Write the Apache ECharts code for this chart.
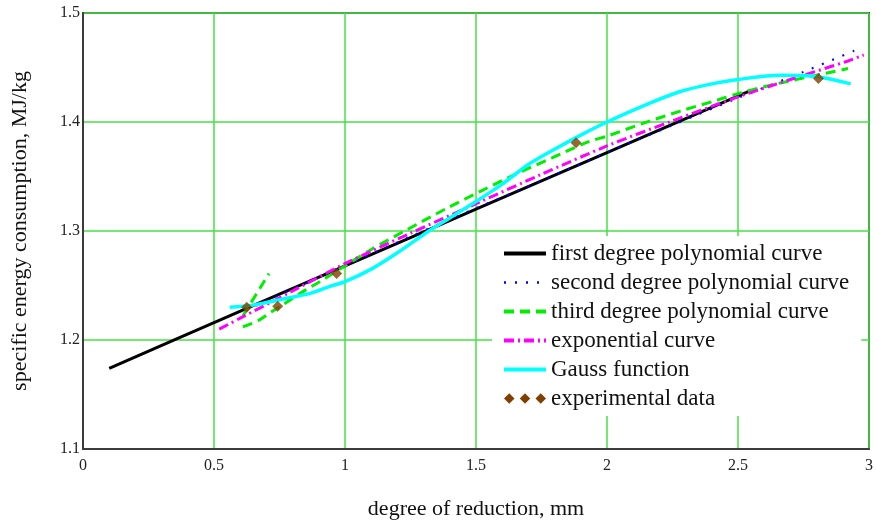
<!DOCTYPE html>
<html>
<head>
<meta charset="utf-8">
<script src="https://cdn.jsdelivr.net/npm/echarts@6/dist/echarts.min.js"></script>
<style>
    html, body { margin: 0; padding: 0; background: #fff; }
    #chart { width: 876px; height: 520px; }
</style>
</head>
<body>
<div id="chart"></div>
<script>
// values: [degree of reduction, energy consumption]
var firstDegree = [[0.1, 1.174], [0.5, 1.216], [1.0, 1.268], [1.5, 1.320], [2.0, 1.372], [2.55, 1.429]];
var secondDegree = [[0.62, 1.227], [0.7, 1.236], [0.85, 1.252], [1.0, 1.268], [1.25, 1.295], [1.5, 1.321],
    [1.75, 1.346], [2.0, 1.372], [2.25, 1.397], [2.5, 1.422], [2.75, 1.446], [2.95, 1.466]];
var thirdDegree = [[0.61, 1.212], [0.67, 1.218], [0.72, 1.226], [0.76, 1.232], [0.85, 1.246], [0.9, 1.253],
    [1.0, 1.268], [1.1, 1.283], [1.235, 1.301], [1.39, 1.321], [1.53, 1.338], [1.65, 1.352], [1.79, 1.367],
    [1.93, 1.382], [2.0, 1.387], [2.14, 1.399], [2.28, 1.410], [2.42, 1.420], [2.5, 1.426], [2.62, 1.4335],
    [2.84, 1.445], [2.92, 1.449]];
var thirdDegreeStub = [[0.61, 1.222], [0.71, 1.261]];
var exponential = [[0.52, 1.210], [0.6, 1.220], [0.8, 1.245], [1.0, 1.270], [1.25, 1.298], [1.5, 1.325],
    [1.75, 1.352], [2.0, 1.378], [2.25, 1.401], [2.5, 1.423], [2.7, 1.439], [2.92, 1.456], [2.98, 1.4615]];
var gauss = [[0.56, 1.230], [0.65, 1.232], [0.75, 1.237], [0.87, 1.243], [0.94, 1.249], [1.0, 1.2535],
    [1.1, 1.265], [1.2, 1.280], [1.32, 1.300], [1.4, 1.312], [1.5, 1.327], [1.6, 1.343], [1.7, 1.361],
    [1.8, 1.375], [1.9, 1.388], [2.0, 1.400], [2.15, 1.416], [2.28, 1.428], [2.4, 1.435], [2.5, 1.439],
    [2.66, 1.443], [2.79, 1.442], [2.86, 1.439], [2.93, 1.435]];
var experimental = [[0.625, 1.230], [0.743, 1.231], [0.968, 1.261], [1.882, 1.381], [2.807, 1.440]];

var legendNames = ['first degree polynomial curve', 'second degree polynomial curve',
    'third degree polynomial curve', 'exponential curve', 'Gauss function', 'experimental data'];

var serif = '"Liberation Serif", "DejaVu Serif", serif';

function lineSeries(name, data, color, width, dash) {
    return {
        name: name,
        type: 'line',
        data: data,
        symbol: 'none',
        smooth: 0.3,
        lineStyle: { color: color, width: width, type: dash },
        itemStyle: { color: color },
        z: 3
    };
}

var myChart = echarts.init(document.getElementById('chart'));
var option = {
    animation: false,
    backgroundColor: '#fff',
    grid: {
        left: 83,
        right: 7,
        top: 13,
        bottom: 71,
        outerBoundsMode: 'none',
        show: true,
        borderColor: '#3c3c3c',
        borderWidth: 2
    },
    legend: {
        data: [
            { name: legendNames[0], lineStyle: { width: 4 } },
            { name: legendNames[1], lineStyle: { width: 2.5 } },
            { name: legendNames[2], lineStyle: { width: 4 } },
            { name: legendNames[3], lineStyle: { width: 4 } },
            { name: legendNames[4], lineStyle: { width: 4 } },
            {
                name: legendNames[5],
                icon: 'path://M0,5L5,0L10,5L5,10Z M15,5L20,0L25,5L20,10Z M30,5L35,0L40,5L35,10Z',
                itemStyle: { opacity: 1, color: '#7f3f00' }
            }
        ],
        orient: 'vertical',
        left: 492,
        top: 236,
        padding: [6, 12, 6, 10],
        itemWidth: 42,
        itemHeight: 12,
        itemGap: 6,
        backgroundColor: '#fff',
        itemStyle: { opacity: 0 },
        textStyle: { fontFamily: serif, fontSize: 23, color: '#111' }
    },
    xAxis: {
        type: 'value',
        min: 0,
        max: 3,
        interval: 0.5,
        name: 'degree of reduction, mm',
        nameLocation: 'middle',
        nameGap: 49,
        nameTextStyle: { fontFamily: serif, fontSize: 22, color: '#111' },
        axisLine: { show: true, lineStyle: { color: '#3c3c3c', width: 2 } },
        axisTick: { show: false },
        axisLabel: { fontFamily: serif, fontSize: 16, color: '#222', margin: 9 },
        splitLine: { show: true, lineStyle: { color: '#44e044', width: 1.5 } }
    },
    yAxis: {
        type: 'value',
        min: 1.1,
        max: 1.5,
        interval: 0.1,
        name: 'specific energy consumption, MJ/kg',
        nameLocation: 'middle',
        nameGap: 52,
        nameTextStyle: { fontFamily: serif, fontSize: 22, color: '#111' },
        axisLine: { show: true, lineStyle: { color: '#3c3c3c', width: 2 } },
        axisTick: { show: false },
        axisLabel: { fontFamily: serif, fontSize: 16, color: '#222', margin: 3 },
        splitLine: { show: true, lineStyle: { color: '#44e044', width: 1.5 } }
    },
    series: [
        lineSeries(legendNames[0], firstDegree, '#000000', 3, 'solid'),
        lineSeries(legendNames[1], secondDegree, '#0000ff', 2, [2, 9]),
        lineSeries(legendNames[2], thirdDegree, '#00ee00', 3, [10, 6]),
        lineSeries('third stub', thirdDegreeStub, '#00ee00', 3, [10, 6]),
        lineSeries(legendNames[3], exponential, '#ff00ff', 3, [10, 4, 2, 4]),
        lineSeries(legendNames[4], gauss, '#00ffff', 3.5, 'solid'),
        {
            name: legendNames[5],
            type: 'scatter',
            data: experimental,
            symbol: 'diamond',
            symbolSize: 11,
            itemStyle: { color: '#7f3f00' },
            z: 5
        }
    ]
};
if (option && typeof option === "object") {
    myChart.setOption(option, true);
}
</script>
</body>
</html>
